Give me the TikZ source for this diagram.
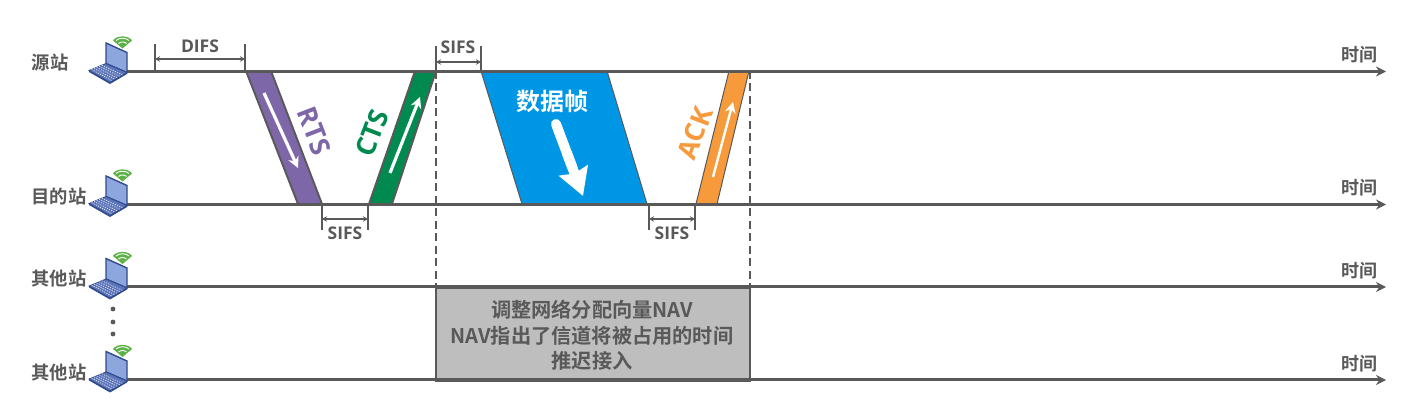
\documentclass[tikz,border=0pt]{standalone}
\usepackage{fontspec}
\setmainfont{Open Sans}
\newfontfamily\cjk{Noto Sans CJK SC}[BoldFont=Noto Sans CJK SC Bold]
\usetikzlibrary{arrows.meta,calc}
\definecolor{ink}{HTML}{595959}
\definecolor{rtsc}{HTML}{7D67A8}
\definecolor{ctsc}{HTML}{008A50}
\definecolor{datac}{HTML}{0096E6}
\definecolor{ackc}{HTML}{F79A3C}
\definecolor{navc}{HTML}{BEBEBE}
\definecolor{lapscreen}{HTML}{8EA6DE}
\definecolor{lapframe}{HTML}{2F4B8C}
\definecolor{lapkeys}{HTML}{5C74B8}
\definecolor{wific}{HTML}{5CB246}
\tikzset{
  timeline/.style={draw=ink,line width=3pt,-{Stealth[length=10pt,width=10pt]}},
  frameedge/.style={draw=ink,line width=1.9pt},
  tickline/.style={draw=ink,line width=1.4pt},
  span/.style={draw=ink,line width=1.4pt,{Stealth[length=5pt,width=5.5pt]}-{Stealth[length=5pt,width=5.5pt]}},
  spanlabel/.style={text=ink,font=\fontsize{17.5}{20}\selectfont\bfseries,inner sep=0pt},
  station/.style={text=ink,font=\cjk\fontsize{18.3}{20}\selectfont\bfseries,inner sep=0pt},
  timelabel/.style={text=ink,font=\cjk\fontsize{18}{20}\selectfont\bfseries,inner sep=0pt},
  slanted/.style={font=\fontsize{27}{30}\selectfont\bfseries,inner sep=0pt},
  whitearrow/.style={draw=white,line width=3.2pt,-{Stealth[length=11pt,width=11pt]}},
  dashline/.style={draw=ink,line width=1.5pt,dash pattern=on 8pt off 4.5pt},
  pics/laptop/.style={code={
    \fill[wific] (-4.5,-23) -- (-14,-31) .. controls (-10,-36.5) and (1,-36.5) .. (5,-31) -- cycle;
    \draw[white,line width=.9pt] (-11,-31) .. controls (-8,-34) and (-1,-34) .. (2,-31);
    \draw[white,line width=.9pt] (-8.5,-28) .. controls (-6.5,-30) and (-2.5,-30) .. (-.5,-28);
    \filldraw[fill=lapscreen,draw=lapframe,line width=1.4pt] (-21,-28.5) -- (0,-19) -- (0,1) -- (-21,-8) -- cycle;
    \filldraw[fill=lapkeys,draw=lapframe,line width=.8pt] (-38,-1) -- (-21,-8) -- (0,1) -- (-17,11) -- cycle;
    \foreach \i in {0.15,0.3,...,0.9}{
      \draw[white!75!lapscreen,line width=.7pt,dash pattern=on 1.2pt off 1.2pt] ($(-38,-1)!\i!(-21,-8)$) -- ($(-17,11)!\i!(0,1)$);
    }
    \fill[lapframe] (-38,-1) -- (-17,11) -- (0,1) -- (0,2.5) -- (-17,12.5) -- (-38,0.5) -- cycle;
  }}
}
\begin{document}
\begin{tikzpicture}[x=1pt,y=-1pt]
\useasboundingbox[fill=white] (0,0) rectangle (1425,411);
% timeline ends
\coordinate (a0) at (127,71.5);  \coordinate (a1) at (1386,71.5);
\coordinate (b0) at (127,204.5); \coordinate (b1) at (1386,204.5);
\coordinate (c0) at (127,287); \coordinate (c1) at (1386,287);
\coordinate (d0) at (127,380); \coordinate (d1) at (1386,380);
% frame corners
\coordinate (rtsA) at (246,71);  \coordinate (rtsB) at (271,71);  \coordinate (rtsC) at (322,204); \coordinate (rtsD) at (298,204);
\coordinate (ctsA) at (415,71);  \coordinate (ctsB) at (436,71);  \coordinate (ctsC) at (392,204); \coordinate (ctsD) at (369,204);
\coordinate (datA) at (481,71);  \coordinate (datB) at (607,71);  \coordinate (datC) at (647,204); \coordinate (datD) at (522,204);
\coordinate (ackA) at (729,71);  \coordinate (ackB) at (749,71);  \coordinate (ackC) at (717,204); \coordinate (ackD) at (696,204);
% NAV box
\node[fill=navc,draw=ink,line width=1.8pt,minimum width=314pt,minimum height=93pt,inner sep=0pt,anchor=north west] (nav) at (435,287) {};
\node[text=ink,inner sep=0pt,align=center,font=\cjk\fontsize{20.2}{25.5}\selectfont\bfseries] (navtext) at (592,335.5) {调整网络分配向量NAV\\NAV指出了信道将被占用的时间\\推迟接入};
% dashed guides
\coordinate (g1a) at (436,71); \coordinate (g1b) at (436,287);
\coordinate (g2a) at (750,71); \coordinate (g2b) at (750,287);
\draw[dashline] (g1a) -- (g1b);
\draw[dashline] (g2a) -- (g2b);
% frames
\filldraw[fill=rtsc,frameedge] (rtsA) -- (rtsB) -- (rtsC) -- (rtsD) -- cycle;
\filldraw[fill=ctsc,frameedge] (ctsA) -- (ctsB) -- (ctsC) -- (ctsD) -- cycle;
\filldraw[fill=datac,draw=ink,line width=1pt] (datA) -- (datB) -- (datC) -- (datD) -- cycle;
\filldraw[fill=ackc,draw=ink,line width=1pt] (ackA) -- (ackB) -- (ackC) -- (ackD) -- cycle;
% timelines
\draw[timeline] (a0) -- (a1);
\draw[timeline] (b0) -- (b1);
\draw[timeline] (c0) -- (c1);
\draw[timeline] (d0) -- (d1);
% laptops
\pic at (a0) {laptop};
\pic at (b0) {laptop};
\pic at (c0) {laptop};
\pic at (d0) {laptop};
% station labels
\node[station] (s1) at (50,62.5) {源站};
\node[station] (s2) at (59,196.5) {目的站};
\node[station] (s3) at (59,278.5) {其他站};
\node[station] (s4) at (59,372.5) {其他站};
% time labels
\node[timelabel] (t1) at (1359,54.5) {时间};
\node[timelabel] (t2) at (1359,187.5) {时间};
\node[timelabel] (t3) at (1359,270.5) {时间};
\node[timelabel] (t4) at (1359,363.5) {时间};
% dots
\fill[ink] (113,309) circle[radius=2.4] (113,322) circle[radius=2.4] (113,334) circle[radius=2.4];
% DIFS
\coordinate (p1) at (155,44); \coordinate (p1b) at (155,71);
\coordinate (p2) at (245,44); \coordinate (p2b) at (245,71);
\coordinate (p1m) at (155,59); \coordinate (p2m) at (245,59);
\draw[tickline] (p1) -- (p1b); \draw[tickline] (p2) -- (p2b);
\draw[span] (p1m) -- (p2m);
\node[spanlabel] (difs) at (200,46.5) {DIFS};
% SIFS top
\coordinate (q1) at (436,46); \coordinate (q1b) at (436,71);
\coordinate (q2) at (481,46); \coordinate (q2b) at (481,71);
\coordinate (q1m) at (436,62); \coordinate (q2m) at (481,62);
\draw[tickline] (q1) -- (q1b); \draw[tickline] (q2) -- (q2b);
\draw[span] (q1m) -- (q2m);
\node[spanlabel] (sifsA) at (458,47.5) {SIFS};
% SIFS lower left
\coordinate (r1) at (322,204); \coordinate (r1b) at (322,230);
\coordinate (r2) at (368,204); \coordinate (r2b) at (368,230);
\coordinate (r1m) at (322,219); \coordinate (r2m) at (368,219);
\draw[tickline] (r1) -- (r1b); \draw[tickline] (r2) -- (r2b);
\draw[span] (r1m) -- (r2m);
\node[spanlabel] (sifsB) at (345,233) {SIFS};
% SIFS lower right
\coordinate (u1) at (649,204); \coordinate (u1b) at (649,230);
\coordinate (u2) at (695,204); \coordinate (u2b) at (695,230);
\coordinate (u1m) at (649,219); \coordinate (u2m) at (695,219);
\draw[tickline] (u1) -- (u1b); \draw[tickline] (u2) -- (u2b);
\draw[span] (u1m) -- (u2m);
\node[spanlabel] (sifsC) at (672,233) {SIFS};
% slanted labels
\node[slanted,text=rtsc,rotate=-69] (rts) at (314.5,131) {RTS};
\node[slanted,text=ctsc,rotate=69] (cts) at (372,133) {CTS};
\node[slanted,text=ackc,rotate=69] (ack) at (695,133) {ACK};
% white arrows
\coordinate (w1a) at (264,93);  \coordinate (w1b) at (298,168);
\coordinate (w2a) at (390,173); \coordinate (w2b) at (420,97);
\coordinate (w3a) at (713,177); \coordinate (w3b) at (733,102);
\draw[whitearrow] (w1a) -- (w1b);
\draw[whitearrow] (w2a) -- (w2b);
\draw[whitearrow,line width=2.4pt] (w3a) -- (w3b);
\node[text=white,inner sep=0pt,font=\cjk\fontsize{24}{28}\selectfont\bfseries] (dattext) at (552,101.5) {数据帧};
\coordinate (w4a) at (556,124); \coordinate (w4b) at (583,196);
\draw[draw=white,line width=10pt,line cap=round] (w4a) -- ($(w4a)!0.6!(w4b)$);
\draw[draw=white,line width=10pt,-{Stealth[length=27pt,width=30pt,inset=3pt]},shorten <=30pt] (w4a) -- (w4b);
\end{tikzpicture}
\end{document}
